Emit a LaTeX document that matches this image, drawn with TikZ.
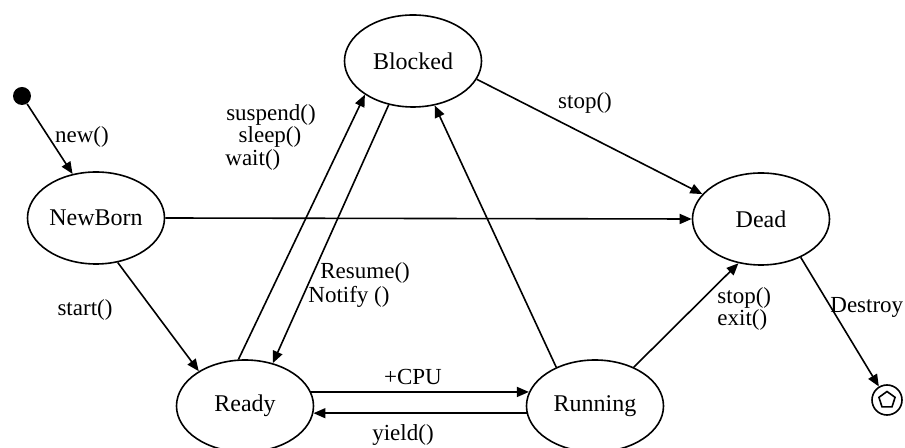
\documentclass[tikz,border=0pt]{standalone}
\usepackage{fontspec}
\setmainfont{Liberation Serif}
\usetikzlibrary{arrows.meta,shapes.geometric}
\begin{document}
\begin{tikzpicture}[x=0.5pt,y=-0.5pt,
  state/.style={ellipse,draw,line width=0.8pt,minimum width=68.5pt,minimum height=46pt,inner sep=0pt,font=\fontsize{12}{13}\selectfont},
  lbl/.style={font=\fontsize{11.5}{13}\selectfont,inner sep=0pt},
  edge/.style={-{Triangle[length=6pt,width=5pt]},line width=0.8pt}]
\useasboundingbox (0,0) rectangle (905,448);
% states
\node[state] (NewBorn) at (96,218) {NewBorn};
\node[state] (Blocked) at (413,61) {Blocked};
\node[state] (Dead) at (761,219) {Dead};
\node[state] (Ready) at (245,406) {Ready};
\node[state] (Running) at (595,406) {Running};
\node[circle,fill,minimum size=9pt,inner sep=0pt] (init) at (22,96) {};
\node[circle,draw,line width=0.8pt,minimum size=15pt,inner sep=0pt] (final) at (887,400) {};
\node[regular polygon,regular polygon sides=5,draw,line width=0.8pt,minimum size=8.5pt,inner sep=0pt] (finalin) at (887,400) {};
% labels
\node[lbl] (lnew) at (82,137) {new()};
\node[lbl] (lstart) at (85,310) {start()};
\node[lbl] (lsusp) at (271,115) {suspend()};
\node[lbl] (lsleep) at (270,137) {sleep()};
\node[lbl,anchor=west] (lwait) at (225,160) {wait()};
\node[lbl,anchor=west] (lres) at (320,273) {Resume()};
\node[lbl,anchor=west] (lnot) at (308,297) {Notify ()};
\node[lbl] (lcpu) at (413,377) {+CPU};
\node[lbl] (lyield) at (403,435) {yield()};
\node[lbl] (lstop1) at (585,103) {stop()};
\node[lbl,anchor=west] (lstop2) at (717,298) {stop()};
\node[lbl,anchor=west] (lexit) at (717,320) {exit()};
\node[lbl,anchor=west] (ldes) at (830,307) {Destroy};
% connectors
\draw[edge] (init) -- (NewBorn.118);
\draw[edge] (NewBorn.-64) -- (Ready.143);
\draw[edge] (NewBorn.east) -- (Dead.west);
\draw[edge] (Ready.98) -- (Blocked.215);
\draw[edge] (Blocked.241) -- (Ready.57);
\draw[edge] (Running.135) -- (Blocked.-64);
\draw[edge] (Blocked.-16) -- (Dead.157);
\draw[edge] (Running.45) -- (Dead.-117);
\draw[edge] (Dead.-44) -- (final);
\draw[edge] (Ready.12) -- (Running.168);
\draw[edge] (Running.186) -- (Ready.-6);
\end{tikzpicture}
\end{document}
